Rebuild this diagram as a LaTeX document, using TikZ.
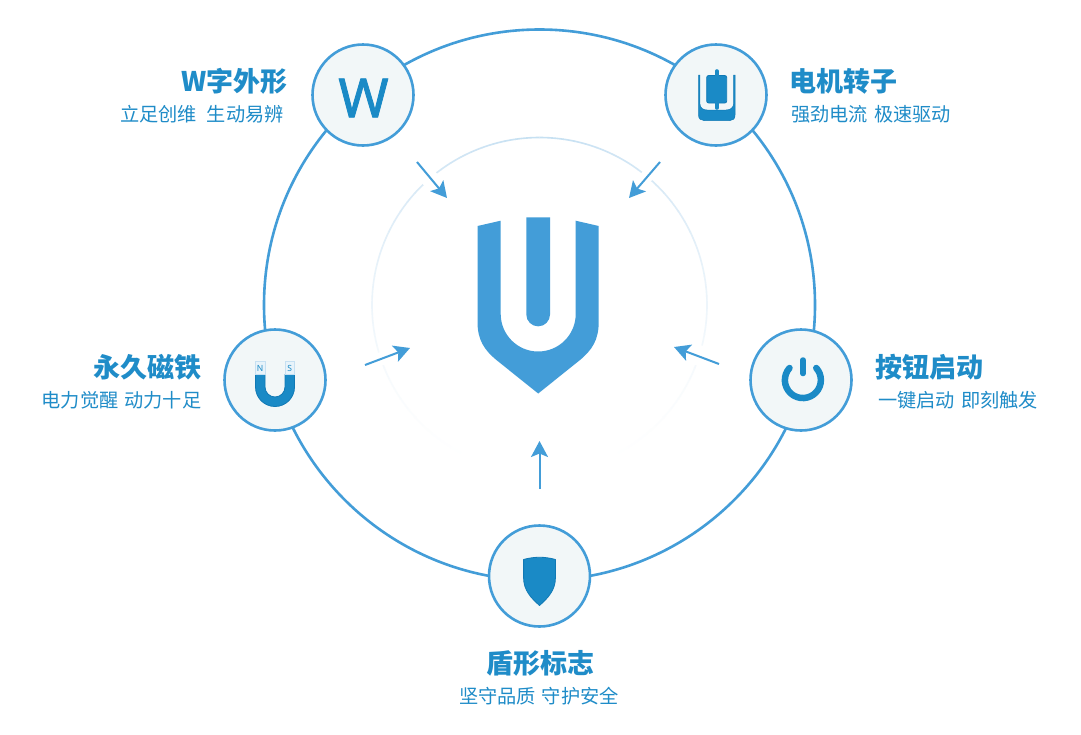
\documentclass[tikz,border=0pt]{standalone}
\usepackage{fontspec}
\usetikzlibrary{arrows.meta,calc}
\setmainfont{Noto Sans}
\newfontfamily\cjk{Noto Sans CJK SC}
\newfontfamily\wfont[FakeBold=1.6]{Noto Sans}
\definecolor{ringblue}{HTML}{439DD8}
\definecolor{iconblue}{HTML}{1A8AC6}
\definecolor{iconedge}{HTML}{1179B5}
\definecolor{discfill}{HTML}{F2F7F8}
\definecolor{textblue}{HTML}{1F8CC8}
\definecolor{halo}{HTML}{C6E0F2}
\definecolor{capfill}{HTML}{E8F3FA}
\tikzset{
  disc/.style={circle,draw=ringblue,fill=discfill,line width=2.6pt,minimum size=101pt,inner sep=0pt},
  flowarrow/.style={draw=ringblue,line width=2pt,-{Stealth[length=16pt,width=17pt,inset=3.5pt]}},
  titletext/.style={font=\cjk\bfseries\fontsize{27}{30}\selectfont,text=textblue,inner sep=0pt},
  subtext/.style={font=\cjk\fontsize{19.2}{22}\selectfont,text=textblue,inner sep=0pt},
  iconfill/.style={fill=iconblue,draw=iconedge,line width=0.8pt,line join=round},
  logofill/.style={fill=ringblue,draw=none}
}
\begin{document}
\begin{tikzpicture}[x=1pt,y=-1pt]
\useasboundingbox (0,0) rectangle (1081,734);
\fill[white] (0,0) rectangle (1081,734);
\coordinate (centre) at (539.5,305);
% fading inner ring
\foreach \a in {-90,-86,...,86}{
  \pgfmathsetmacro{\fadev}{max(0,1-(\a+90)/160)}
  \pgfmathsetmacro{\mixv}{100*\fadev*\fadev*(2-\fadev)}
  \pgfmathsetmacro{\aend}{\a+4.2}
  \draw[halo!\mixv!white,line width=1.6pt] ($(centre)+(\a:167.5)$) arc[start angle=\a,end angle=\aend,radius=167.5];
  \pgfmathsetmacro{\bstart}{-180-\a-4.2}
  \pgfmathsetmacro{\bend}{-180-\a}
  \draw[halo!\mixv!white,line width=1.6pt] ($(centre)+(\bstart:167.5)$) arc[start angle=\bstart,end angle=\bend,radius=167.5];
}
% gaps of the inner ring where the arrows pass
\foreach \ga/\gb in {-134/-128,-52.3/-48,159/163.5,14/21}{
  \draw[white,line width=4pt] ($(centre)+(\ga:167.5)$) arc[start angle=\ga,end angle=\gb,radius=167.5];
}
% outer ring
\draw[ringblue,line width=2.6pt] (centre) circle[radius=275.5];
% centre logo
\fill[logofill] (477.5,226) -- (500.7,220.7) -- (500.7,314) arc[start angle=180,end angle=0,radius=37.5] -- (575.7,220.7) -- (598.7,226) -- (598.7,322)
  .. controls (598.7,340) and (592,350) .. (580,360) -- (538.2,393.5) -- (496.4,360)
  .. controls (484.4,350) and (477.5,340) .. (477.5,322) -- cycle;
\fill[logofill] (526.3,217.3) -- (550,217.3) -- (550,314.5) arc[start angle=0,end angle=180,radius=11.85] -- cycle;
% discs
\node[disc] (w) at (363,95) {};
\node[disc] (motor) at (716,95) {};
\node[disc] (power) at (801,380) {};
\node[disc] (shield) at (539.5,576) {};
\node[disc] (magnet) at (275,380) {};
% W icon
\node[font=\wfont\fontsize{54}{54}\selectfont,text=iconblue,inner sep=0pt] (wglyph) at (363.5,98) {W};
% motor icon
\fill[iconblue,draw=iconedge,line width=.5pt] (698.5,75) -- (698.5,115) .. controls (698.5,119) and (701,120.5) .. (704,120.5) -- (730,120.5) .. controls (733,120.5) and (735,119) .. (735,115) -- (735,75) -- (733.7,75) -- (733.7,103) .. controls (733.7,108) and (730,110) .. (726,110) -- (707,110) .. controls (703,110) and (699.8,108) .. (699.8,103) -- (699.8,75) -- cycle;
\fill[iconblue,draw=iconedge,line width=.8pt,rounded corners=2pt] (706.7,75.5) rectangle (726.7,103);
\draw[iconblue,line width=3.6pt,line cap=round] (716.7,71) -- (716.7,108);
% power icon
\draw[iconblue,line width=6.5pt,line cap=round] (789.5,368) arc[start angle=-138,end angle=-402,radius=18];
\draw[iconblue,line width=5.5pt,line cap=round] (803,360) -- (803,373.5);
% shield icon
\path[iconfill] (523.6,559.5) .. controls (534,556.5) and (545,556.5) .. (555.4,559.5) -- (555.4,578) .. controls (555.4,590) and (548,598) .. (539.5,605.5) .. controls (531,598) and (523.6,590) .. (523.6,578) -- cycle;
% magnet icon
\path[iconfill] (255.5,374.5) -- (265,374.5) -- (265,387) arc[start angle=180,end angle=0,radius=10] -- (285,374.5) -- (294.5,374.5) -- (294.5,387) arc[start angle=0,end angle=180,radius=19.5] -- cycle;
\fill[capfill,draw=halo,line width=1pt] (255.5,361.5) rectangle (265,374.5);
\fill[capfill,draw=halo,line width=1pt] (285,361.5) rectangle (294.5,374.5);
\node[font=\bfseries\fontsize{8.5}{8.5}\selectfont,text=iconblue,inner sep=0pt] (nlabel) at (260.2,368) {N};
\node[font=\bfseries\fontsize{8.5}{8.5}\selectfont,text=iconblue,inner sep=0pt] (slabel) at (289.8,368) {S};
% arrows
\coordinate (a1s) at (417,162); \coordinate (a1e) at (447,198);
\coordinate (a2s) at (660,162); \coordinate (a2e) at (629,198);
\coordinate (a3s) at (719,364); \coordinate (a3e) at (674,347);
\coordinate (a4s) at (365,365); \coordinate (a4e) at (410,348);
\coordinate (a5s) at (539.5,489); \coordinate (a5e) at (539.5,441);
\draw[flowarrow] (a1s) -- (a1e);
\draw[flowarrow] (a2s) -- (a2e);
\draw[flowarrow] (a3s) -- (a3e);
\draw[flowarrow] (a4s) -- (a4e);
\draw[flowarrow] (a5s) -- (a5e);
% labels
\node[titletext,anchor=east] (t1) at (287.5,81.5) {W字外形};
\node[subtext,anchor=east] (s1) at (284,114.5) {立足创维\hspace{10pt}生动易辨};
\node[titletext,anchor=west] (t2) at (789,81.5) {电机转子};
\node[subtext,anchor=west] (s2) at (791,114.5) {强劲电流\hspace{6pt}极速驱动};
\node[titletext,anchor=east] (t3) at (201.5,367.5) {永久磁铁};
\node[subtext,anchor=east] (s3) at (201.5,400.5) {电力觉醒\hspace{6pt}动力十足};
\node[titletext,anchor=west] (t4) at (875,367.5) {按钮启动};
\node[subtext,anchor=west] (s4) at (878,400.5) {一键启动\hspace{6pt}即刻触发};
\node[titletext] (t5) at (540,663.5) {盾形标志};
\node[subtext] (s5) at (539,696.5) {坚守品质\hspace{6pt}守护安全};
\end{tikzpicture}
\end{document}
